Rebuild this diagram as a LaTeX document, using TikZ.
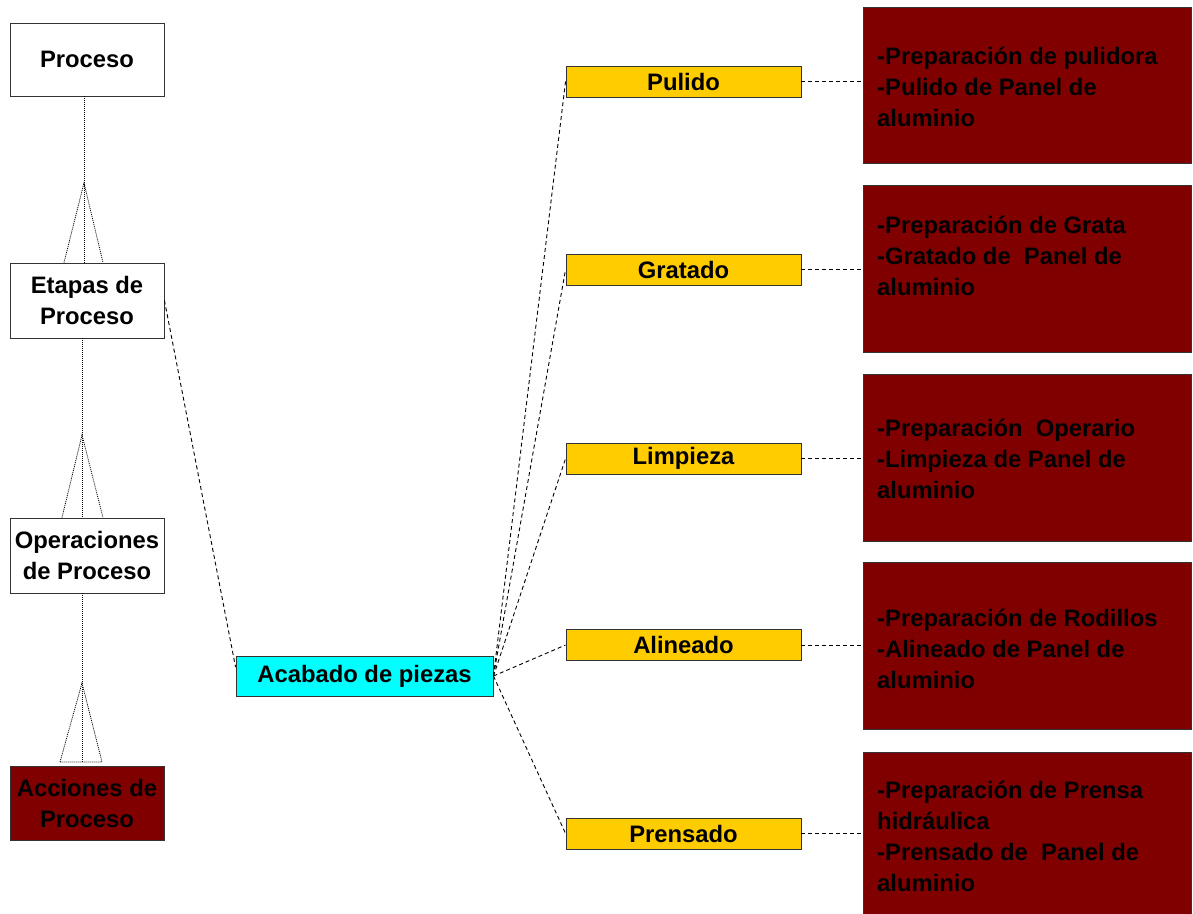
\documentclass[tikz,border=0pt]{standalone}
\usepackage{fontspec}
\setmainfont{Liberation Sans}
\definecolor{oro}{HTML}{FFCC00}
\definecolor{cian}{HTML}{00FFFF}
\definecolor{granate}{HTML}{800000}
\begin{document}
\begin{tikzpicture}[x=1pt,y=-1pt,
  lbl/.style={font=\fontsize{23.8}{31}\selectfont\bfseries},
  box/.style={lbl, draw=black!80, line width=0.9pt, inner sep=0pt, align=center},
  lvl/.style={box, fill=white, minimum width=154pt},
  etapa/.style={box, fill=oro, minimum width=235pt, minimum height=31pt},
  accion/.style={draw=black!80, line width=0.9pt, fill=granate, minimum width=328pt, inner sep=0pt},
  acctxt/.style={lbl, text=black, align=left, inner sep=0pt, anchor=west},
  dotline/.style={line width=0.8pt, dash pattern=on 1pt off 1pt},
  dashline/.style={line width=0.9pt, dash pattern=on 4pt off 3pt}
]
\useasboundingbox (0,0) rectangle (1193,913);

% hierarchy levels (left column)
\node[lvl, minimum height=73pt] (proc) at (87,59.5) {Proceso};
\node[lvl, minimum height=75pt] (etap) at (87,300.5) {Etapas de\\Proceso};
\node[lvl, minimum height=75pt] (oper) at (87,555.5) {Operaciones\\de Proceso};
\node[lvl, fill=granate, minimum height=74pt] (acc) at (87,803) {Acciones de\\Proceso};

% links between levels
\coordinate (a1) at (84,183);
\coordinate (a2) at (82,435);
\coordinate (a3) at (82,683);
\coordinate (b3l) at (60,762);
\coordinate (b3r) at (102,762);
\coordinate (b3c) at (82,762);
\draw[dotline] ([xshift=-3pt]proc.south) -- ([xshift=-3pt]etap.north);
\draw[dotline] ([xshift=-23pt]etap.north) -- (a1) -- ([xshift=16pt]etap.north);
\draw[dotline] ([xshift=-5pt]etap.south) -- ([xshift=-5pt]oper.north);
\draw[dotline] ([xshift=-25pt]oper.north) -- (a2) -- ([xshift=16pt]oper.north);
\draw[dotline] ([xshift=-5pt]oper.south) -- (b3c);
\draw[dotline] (b3l) -- (a3) -- (b3r) -- cycle;

% main stage
\node[box, fill=cian, minimum width=257pt, minimum height=40pt] (acab) at (364.5,676) {Acabado de piezas};
\draw[dashline] (etap.east) -- ([yshift=9pt]acab.west);

% stages
\node[etapa] (pul) at (683.5,81.5) {Pulido};
\node[etapa] (gra) at (683.5,269.5) {Gratado};
\node[etapa] (lim) at (683.5,458.5) {Limpieza};
\node[etapa] (ali) at (683.5,645) {Alineado};
\node[etapa] (pre) at (683.5,833.5) {Prensado};

\foreach \s in {pul,gra,lim,ali,pre}
  \draw[dashline] (acab.east) -- (\s.west);

% actions
\node[accion, minimum height=156pt] (r1) at (1027,85) {};
\node[accion, minimum height=167pt] (r2) at (1027,268.5) {};
\node[accion, minimum height=167pt] (r3) at (1027,457.5) {};
\node[accion, minimum height=167pt] (r4) at (1027,645.5) {};
\node[accion, minimum height=173pt] (r5) at (1027,838.5) {};

\node[acctxt] (t1) at (877,87) {-Preparación de pulidora\\-Pulido de Panel de\\aluminio};
\node[acctxt] (t2) at (877,256) {-Preparación de Grata\\-Gratado de\ \ Panel de\\aluminio};
\node[acctxt] (t3) at (877,459) {-Preparación\ \ Operario\\-Limpieza de Panel de\\aluminio};
\node[acctxt] (t4) at (877,649) {-Preparación de Rodillos\\-Alineado de Panel de\\aluminio};
\node[acctxt] (t5) at (877,836.5) {-Preparación de Prensa\\hidráulica\\-Prensado de\ \ Panel de\\aluminio};

\draw[dashline] (pul.east) -- (pul.east -| r1.west);
\draw[dashline] (gra.east) -- (gra.east -| r2.west);
\draw[dashline] (lim.east) -- (lim.east -| r3.west);
\draw[dashline] (ali.east) -- (ali.east -| r4.west);
\draw[dashline] (pre.east) -- (pre.east -| r5.west);
\end{tikzpicture}
\end{document}
